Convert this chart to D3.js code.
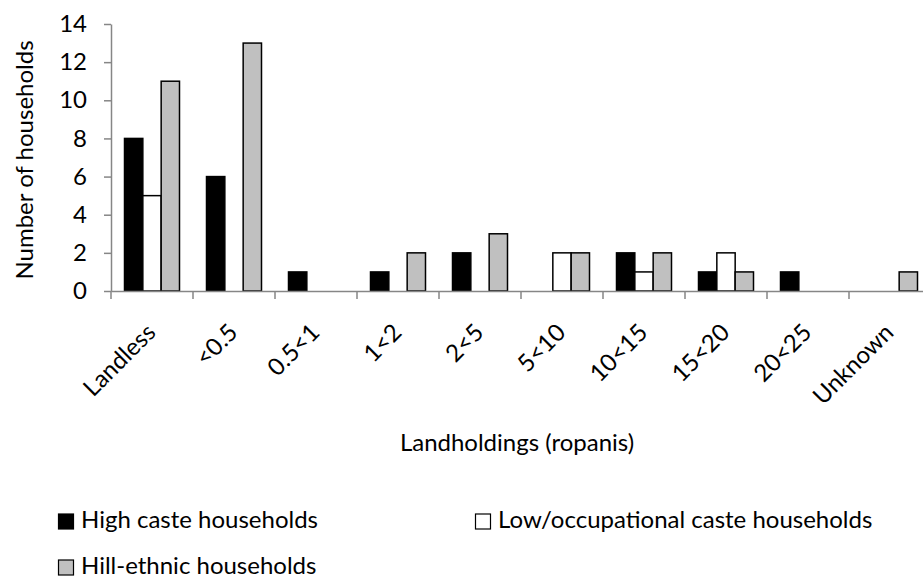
<!DOCTYPE html>
<html>
<head>
<meta charset="utf-8">
<script src="https://cdn.jsdelivr.net/npm/d3@7"></script>
<style>
  body { margin: 0; background: #fff; }
  svg text { font-family: Lato, "Open Sans", sans-serif; fill: #000; }
</style>
</head>
<body>
<div id="chart"></div>
<script>
const categories = ["Landless", "<0.5", "0.5<1", "1<2", "2<5", "5<10", "10<15", "15<20", "20<25", "Unknown"];
const highCaste = [8, 6, 1, 1, 2, 0, 2, 1, 1, 0];
const lowCaste = [5, 0, 0, 0, 0, 2, 1, 2, 0, 0];
const hillEthnic = [11, 13, 0, 2, 3, 2, 2, 1, 0, 1];
const yTicks = [0, 2, 4, 6, 8, 10, 12, 14];

const seriesNames = ["High caste households", "Low/occupational caste households", "Hill-ethnic households"];
const seriesColors = ["#000000", "#ffffff", "#c0c0c0"];
const seriesData = [highCaste, lowCaste, hillEthnic];

let width = 923, height = 581;
let margin = {left: 111, top: 24, bottom: 291};
let step = 82;
let fontSize = "24px";

let svg = d3.select("#chart").append("svg")
    .attr("width", width)
    .attr("height", height);

let xScale = d3.scaleBand()
    .domain(categories)
    .range([margin.left, margin.left + step * categories.length]);

let inner = d3.scaleBand()
    .domain(d3.range(seriesData.length))
    .range([13.5, step - 13.5]);

let yScale = d3.scaleLinear().domain([0, 14]).range([margin.bottom, margin.top]);

// bars (zero values are not drawn)
let rows = [];
seriesData.forEach(function (vals, s) {
    vals.forEach(function (v, i) {
        if (v > 0) rows.push({cat: categories[i], s: s, value: v});
    });
});

svg.selectAll(".bar")
    .data(rows)
    .enter().append("rect")
    .attr("class", "bar")
    .attr("x", d => xScale(d.cat) + inner(d.s))
    .attr("y", d => yScale(d.value))
    .attr("width", inner.bandwidth())
    .attr("height", d => yScale(0) - yScale(d.value))
    .attr("fill", d => seriesColors[d.s])
    .attr("stroke", "#000")
    .attr("stroke-width", 1.5);

// y axis
let yAxis = svg.append("g")
    .attr("transform", "translate(" + margin.left + ",0)")
    .call(d3.axisLeft(yScale).tickValues(yTicks).tickSize(7).tickPadding(17).tickSizeOuter(0));
yAxis.selectAll("text").style("font-size", fontSize);
yAxis.selectAll("line, path").attr("stroke", "#868686").attr("stroke-width", 1.5);

// x axis
let xAxis = svg.append("g")
    .attr("transform", "translate(0," + margin.bottom + ")")
    .call(d3.axisBottom(xScale).tickSize(0).tickSizeOuter(0));
xAxis.select(".domain").attr("stroke", "#868686").attr("stroke-width", 1.5);
xAxis.selectAll(".tick line").remove();
xAxis.selectAll(".tick").append("line")
    .attr("x1", -step / 2).attr("x2", -step / 2)
    .attr("y1", 0).attr("y2", 8)
    .attr("stroke", "#868686").attr("stroke-width", 1.5);
xAxis.selectAll("text")
    .style("font-size", fontSize)
    .style("text-anchor", "end")
    .attr("y", 0)
    .attr("dy", 0)
    .attr("transform", "translate(5,43) rotate(-45)");

// axis titles
svg.append("text")
    .attr("transform", "translate(33,160) rotate(-90)")
    .attr("text-anchor", "middle")
    .style("font-size", fontSize)
    .text("Number of households");

svg.append("text")
    .attr("x", 517).attr("y", 451)
    .attr("text-anchor", "middle")
    .style("font-size", fontSize)
    .text("Landholdings (ropanis)");

// legend
const legendPos = [[58, 529], [475, 529], [58, 575]];
let legend = svg.selectAll(".legend")
    .data(seriesNames)
    .enter().append("g")
    .attr("class", "legend")
    .attr("transform", (d, i) => "translate(" + legendPos[i][0] + "," + legendPos[i][1] + ")");

legend.append("rect")
    .attr("x", 0.5).attr("y", -15)
    .attr("width", 15).attr("height", 15)
    .attr("fill", (d, i) => seriesColors[i])
    .attr("stroke", "#000")
    .attr("stroke-width", 1.2);

legend.append("text")
    .attr("x", 23).attr("y", -1)
    .style("font-size", fontSize)
    .text(d => d);
</script>
</body>
</html>
